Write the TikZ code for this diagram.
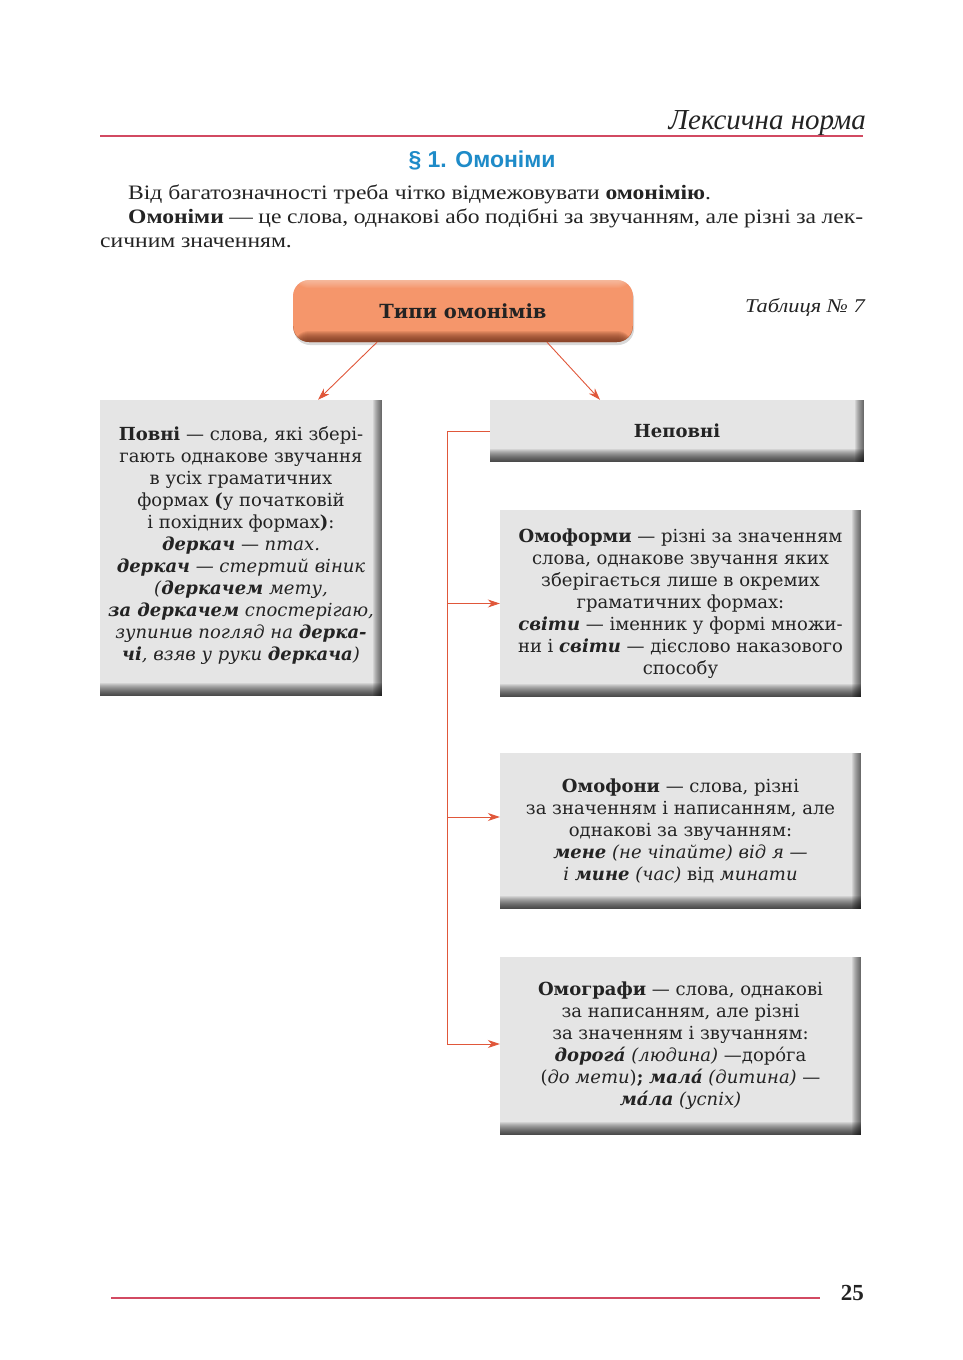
\documentclass[tikz,border=0pt]{standalone}
\usepackage{fontspec}
\setmainfont{DejaVu Serif}
\newfontfamily\parafont[FakeStretch=1.15]{Liberation Serif}
\newfontfamily\headfont{Liberation Serif}
\newfontfamily\titlefont{Liberation Sans}
\usetikzlibrary{arrows.meta,shadows}
\definecolor{linkred}{HTML}{E0573A}
\definecolor{rulered}{HTML}{D24A62}
\definecolor{titleblue}{HTML}{1E8BC8}
\definecolor{salmon}{HTML}{F5966B}
\definecolor{salmonrim}{HTML}{6E3018}
\definecolor{inkdark}{HTML}{232323}
\newcommand{\hw}[1]{\textbf{\textit{#1}}}

\begin{document}
\begin{tikzpicture}[x=1pt,y=-1pt,
    boxtext/.style={text=inkdark, align=center, font=\fontsize{18}{22}\selectfont},
    greybox/.style={boxtext, fill=gray!20, inner sep=0pt, path picture={
        \draw[white!80!gray, line width=3pt] (path picture bounding box.south west)
          -- (path picture bounding box.north west) -- (path picture bounding box.north east);
        \foreach \k in {1,...,9}
          \fill[black, opacity=0.08] ([xshift=-\k pt]path picture bounding box.north east)
            rectangle (path picture bounding box.south east);
        \foreach \k in {1,...,13}
          \fill[black, opacity=0.08] ([yshift=\k pt]path picture bounding box.south west)
            rectangle (path picture bounding box.south east);
      }},
    typebox/.style={boxtext, rounded corners=16pt, fill=salmon,
      drop shadow={shadow xshift=1pt, shadow yshift=-3pt, opacity=0.3},
      path picture={
        \foreach \k in {1,...,8}
          \fill[white, opacity=0.05] ([yshift=-\k pt]path picture bounding box.north west)
            rectangle (path picture bounding box.north east);
        \foreach \k in {1,...,11}
          \fill[salmonrim, opacity=0.12] ([yshift=\k pt]path picture bounding box.south west)
            rectangle (path picture bounding box.south east);
      }},
    link/.style={draw=linkred, line width=0.9pt},
    linkarrow/.style={link, -{Stealth[length=12pt,width=8pt]}},
    paraline/.style={anchor=base west, inner sep=0pt, text=inkdark, font=\parafont\fontsize{20.5}{24}\selectfont}
  ]
  \useasboundingbox (0,0) rectangle (963,1360);

  % page head
  \node[anchor=base east, inner sep=0pt, text=inkdark, font=\headfont\itshape\fontsize{29}{32}\selectfont]
    (header) at (866,129) {Лексична норма};
  \draw[rulered, line width=1.8pt] (100,136) -- (863,136);
  \node[text=titleblue, font=\titlefont\bfseries\fontsize{23}{26}\selectfont] (title) at (482,160) {§ 1. Омоніми};

  \node[paraline] (para1) at (128,199) {Від багатозначності треба чітко відмежовувати \textbf{омонімію}.};
  \node[paraline] (para2) at (128,223)
    {\makebox[735pt][s]{\textbf{Омоніми} — це слова, однакові або подібні за звучанням, але різні за лек-}};
  \node[paraline] (para3) at (100,247) {сичним значенням.};

  \node[anchor=base east, inner sep=0pt, text=inkdark, font=\parafont\itshape\fontsize{19.5}{22}\selectfont]
    (tableno) at (865,312) {Таблиця № 7};

  % boxes
  \node[typebox, minimum width=340pt, minimum height=62pt, font=\bfseries\fontsize{19.5}{22}\selectfont]
    (types) at (463,311) {Типи омонімів};

  \node[greybox, minimum width=282pt, minimum height=296pt] (full) at (241,548) {%
    \textbf{Повні} — слова, які збері-\\
    гають однакове звучання\\
    в усіх граматичних\\
    формах \textbf{(}у початковій\\
    і похідних формах\textbf{)}:\\
    \hw{деркач} — \textit{птах.}\\
    \hw{деркач} \textit{— стертий віник}\\
    \textit{(}\hw{деркачем} \textit{мету,}\\
    \hw{за деркачем} \textit{спостерігаю,}\\
    \textit{зупинив погляд на} \hw{дерка-}\\
    \hw{чі}\textit{, взяв у руки} \hw{деркача}\textit{)}\\[-14pt]};

  \node[greybox, minimum width=374pt, minimum height=62pt, font=\bfseries\fontsize{18}{20}\selectfont]
    (partial) at (677,431) {Неповні};

  \node[greybox, minimum width=361pt, minimum height=187pt] (forms) at (680.5,603.5) {%
    \textbf{Омоформи} — різні за значенням\\
    слова, однакове звучання яких\\
    зберігається лише в окремих\\
    граматичних формах:\\
    \hw{світи} — іменник у формі множи-\\
    ни і \hw{світи} — дієслово наказового\\
    способу};

  \node[greybox, minimum width=361pt, minimum height=156pt] (phones) at (680.5,831) {%
    \textbf{Омофони} — слова, різні\\
    за значенням і написанням, але\\
    однакові за звучанням:\\
    \hw{мене} \textit{(не чіпайте) від я —}\\
    \textit{і} \hw{мине} \textit{(час)} від \textit{минати}};

  \node[greybox, minimum width=361pt, minimum height=178pt] (graphs) at (680.5,1046) {%
    \textbf{Омографи} — слова, однакові\\
    за написанням, але різні\\
    за значенням і звучанням:\\
    \hw{дорога́} \textit{(людина)} —доро́га\\
    (\textit{до мети})\textbf{;} \hw{мала́} \textit{(дитина)} —\\
    \hw{ма́ла} \textit{(успіх)}};

  % connectors
  \draw[linkarrow] ([xshift=-86pt]types.south) -- ([xshift=77pt]full.north);
  \draw[linkarrow] ([xshift=84pt]types.south) -- ([xshift=-77pt]partial.north);

  \coordinate (rail) at (447,431);
  \coordinate (phonesin) at ([yshift=14pt]phones.west);
  \coordinate (graphsin) at ([yshift=2pt]graphs.west);
  \draw[link] (partial.west) -- (rail);
  \draw[linkarrow] (rail) |- (graphsin);
  \draw[linkarrow] (rail |- forms.west) -- (forms.west);
  \draw[linkarrow] (rail |- phonesin) -- (phonesin);

  % page foot
  \draw[rulered, line width=1.8pt] (111,1298) -- (820,1298);
  \node[anchor=base east, inner sep=0pt, text=inkdark, font=\headfont\bfseries\fontsize{23}{26}\selectfont]
    (pageno) at (864,1300) {25};
\end{tikzpicture}
\end{document}
